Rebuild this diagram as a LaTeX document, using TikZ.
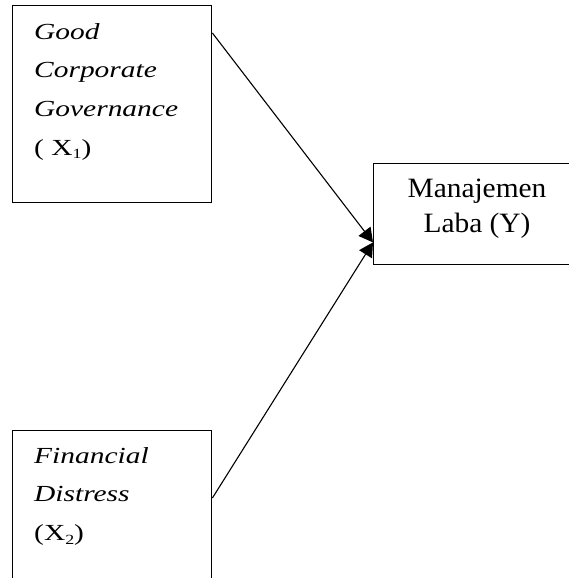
\documentclass[tikz,border=0pt]{standalone}
\usepackage{fontspec}
\setmainfont{Liberation Serif}
\newfontfamily\boxfont[FakeStretch=1.28]{Liberation Serif}
\newfontfamily\yfont[FakeStretch=1.05]{Liberation Serif}
\usetikzlibrary{arrows.meta}
\newcommand{\lowsub}[1]{\raisebox{-0.35ex}{\fontsize{14}{14}\selectfont #1}}
\begin{document}
\begin{tikzpicture}[x=1pt,y=-1pt,
  boxshape/.style={draw=black, line width=1.4pt, rectangle, inner sep=0pt, anchor=north west},
  lefttext/.style={inner sep=0pt, anchor=north west, align=left,
    font=\boxfont\fontsize{23}{38.7}\selectfont},
  ytext/.style={inner sep=0pt, anchor=north, align=center,
    font=\yfont\fontsize{28}{35}\selectfont},
  link/.style={draw=black, line width=1.1pt, -{Triangle[length=14pt,width=15pt]}}]
\useasboundingbox (0,0) rectangle (569,578);
\node[boxshape, minimum width=199pt, minimum height=197pt] (gcg) at (12,5) {};
\node[boxshape, minimum width=199pt, minimum height=170pt] (fd) at (12,430) {};
\node[boxshape, minimum width=230pt, minimum height=101pt] (ml) at (373,163) {};
\node[lefttext] (gcgt) at (34,23) {\itshape Good\\\itshape Corporate\\\itshape Governance\\( X\lowsub{1})};
\node[lefttext] (fdt) at (34,447) {\itshape Financial\\\itshape Distress\\(X\lowsub{2})};
\node[ytext] (mlt) at (477,179) {Manajemen\\Laba (Y)};
\draw[link] ([yshift=-28pt]gcg.north east) -- ([yshift=23pt]ml.south west);
\draw[link] ([yshift=-68pt]fd.north east) -- ([yshift=23pt]ml.south west);
\end{tikzpicture}
\end{document}
